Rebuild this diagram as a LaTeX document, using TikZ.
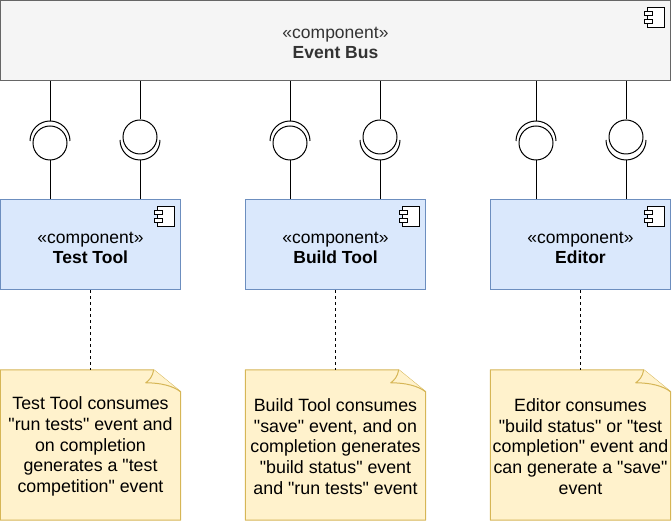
\documentclass[tikz,border=0pt]{standalone}
\usepackage{fontspec}
\setmainfont{Liberation Sans}[Ligatures=TeXOff]
\definecolor{busfill}{HTML}{F5F5F5}
\definecolor{busline}{HTML}{666666}
\definecolor{bustext}{HTML}{333333}
\definecolor{compfill}{HTML}{DAE8FC}
\definecolor{compline}{HTML}{6C8EBF}
\definecolor{notefill}{HTML}{FFF2CC}
\definecolor{noteline}{HTML}{D6B656}
\tikzset{
  base/.style={draw, line width=1pt, inner sep=0pt, align=center},
  busbox/.style={base, draw=busline, fill=busfill, minimum width=670pt, minimum height=80pt},
  compbox/.style={base, draw=compline, fill=compfill, minimum width=180pt, minimum height=90pt},
  boxtext/.style={inner sep=0pt, align=center, font=\fontsize{17.5}{20}\selectfont},
  notebox/.style={inner sep=0pt, minimum width=180pt, minimum height=150pt},
  notetext/.style={inner sep=0pt, align=center, font=\fontsize{17.8}{20.7}\selectfont},
  notedraw/.style={draw=noteline, fill=notefill, line width=1pt, line join=round},
  ball/.style={circle, draw, line width=1pt, minimum size=34pt, inner sep=0pt},
  link/.style={line width=1pt},
  notelink/.style={line width=1pt, dash pattern=on 3pt off 3pt},
  compicon/.pic={
    \draw[line width=0.9pt, fill=white] (-24,-7) rectangle (-7,-27);
    \draw[line width=0.9pt, fill=white] (-27,-11) rectangle (-19,-15);
    \draw[line width=0.9pt, fill=white] (-27,-19) rectangle (-19,-23);
  },
  notefold/.pic={
    \draw[notedraw] (-27,0) .. controls (-28,-7) and (-32,-11) .. (-35,-13) .. controls (-20,-13) and (-8,-16) .. (0,-22);
  }
}
\begin{document}
\begin{tikzpicture}[x=1pt, y=1pt]
\useasboundingbox (0,0) rectangle (672,522);

% Event bus
\node[busbox] (bus) at (335.5,481.5) {};
\node[boxtext, text=bustext] (bustxt) at ([yshift=-2pt]bus.center) {«component»\\\textbf{Event Bus}};
\pic at (bus.north east) {compicon};

% Components
\node[compbox] (tt) at (90.5,277) {};
\node[compbox] (bt) at (335.5,277) {};
\node[compbox] (ed) at (580.5,277) {};
\node[boxtext] (tttxt) at ([yshift=-3pt]tt.center) {«component»\\\textbf{Test Tool}};
\node[boxtext] (bttxt) at ([yshift=-3pt]bt.center) {«component»\\\textbf{Build Tool}};
\node[boxtext] (edtxt) at ([yshift=-3pt]ed.center) {«component»\\\textbf{Editor}};
\foreach \c in {tt,bt,ed}{\pic at (\c.north east) {compicon};}

% Provided/required interfaces
\foreach \xa/\xb/\c [count=\i] in {50/140/tt, 290/380/bt, 536/626/ed}{
  \node[ball] (bl\i) at (\xa,379) {};
  \draw[link] ({\xa-20},381) arc[start angle=180, end angle=0, radius=20pt];
  \coordinate (sl\i) at (\xa,401);
  \draw[link] (bus.south -| sl\i) -- (sl\i);
  \draw[link] (bl\i.south) -- (bl\i.south |- \c.north);
  \node[ball] (br\i) at (\xb,385) {};
  \draw[link] ({\xb-20},382) arc[start angle=180, end angle=360, radius=20pt];
  \coordinate (sr\i) at (\xb,362);
  \draw[link] (bus.south -| br\i) -- (br\i.north);
  \draw[link] (sr\i) -- (sr\i |- \c.north);
}

% Notes
\node[notebox] (n1) at (90.5,77) {};
\node[notebox] (n2) at (335.5,77) {};
\node[notebox] (n3) at (580.5,77) {};
\foreach \n in {n1,n2,n3}{
  \draw[notedraw] (\n.north west) -- ([xshift=-27pt]\n.north east) -- ([yshift=-22pt]\n.north east) -- (\n.south east) -- (\n.south west) -- cycle;
  \pic at (\n.north east) {notefold};
}
\node[notetext] (n1txt) at ([yshift=-1.5pt]n1.center) {Test Tool consumes\\"run tests" event and\\on completion\\generates a "test\\competition" event};
\node[notetext] (n2txt) at ([yshift=-1.5pt]n2.center) {Build Tool consumes\\"save" event, and on\\completion generates\\"build status" event\\and "run tests" event};
\node[notetext] (n3txt) at ([yshift=-1.5pt]n3.center) {Editor consumes\\"build status" or "test\\completion" event and\\can generate a "save"\\event};

% Note links
\draw[notelink] (tt.south) -- (n1.north);
\draw[notelink] (bt.south) -- (n2.north);
\draw[notelink] (ed.south) -- (n3.north);
\end{tikzpicture}
\end{document}
